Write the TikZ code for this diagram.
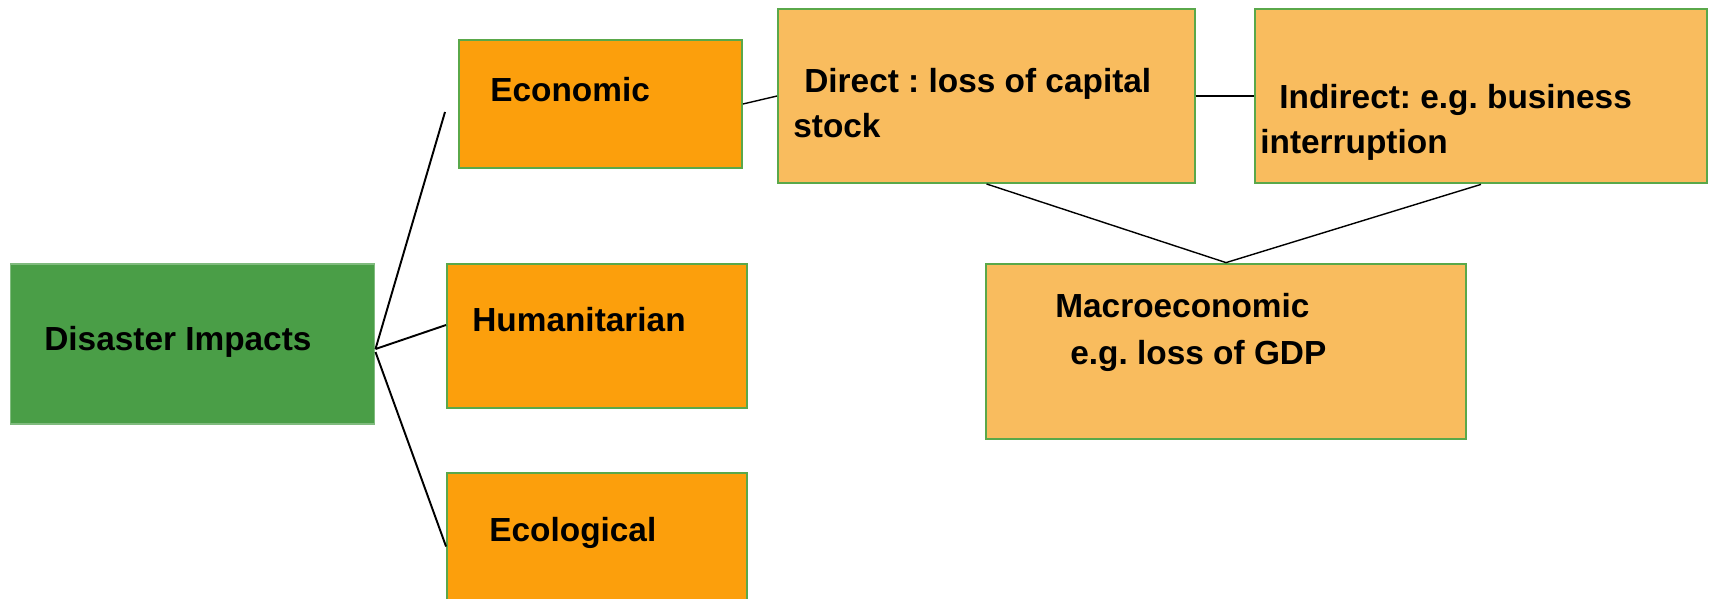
\documentclass[tikz,border=0pt]{standalone}
\usepackage{fontspec}
\setmainfont{Liberation Sans}
\usepackage{tikz}
\usetikzlibrary{positioning}
\definecolor{impactgreen}{HTML}{4A9E47}
\definecolor{edgegreen}{HTML}{5AA84A}
\definecolor{darkorange}{HTML}{FC9F0C}
\definecolor{lightorange}{HTML}{F9BC5E}
\frenchspacing

\begin{document}
\begin{tikzpicture}[x=0.02cm, y=-0.02cm,
			internal/.style={draw=edgegreen, rectangle, line width=1.1pt, inner sep=0pt},
			lbl/.style={anchor=base west, inner sep=0pt, font=\fontsize{19}{22}\selectfont\bfseries},
			link/.style={draw, line width=0.8pt}]
			\useasboundingbox (0,0) rectangle (1709,598);

			\node[internal, fill=impactgreen, draw=impactgreen!70!white, line width=0.6pt, minimum width=7.3cm, minimum height=3.2cm](node1) at (192.5,344) {};
			\node[lbl] (text1) at (44,350) {Disaster Impacts};

			% first level
			\node[internal, fill=darkorange, minimum width=5.66cm, minimum height=2.56cm](node2) at (600.5,104) {};
			\node[lbl] (text2) at (490,101) {Economic};
			\node[internal, fill=darkorange, minimum width=6cm, minimum height=2.88cm](node3) at (597,336) {};
			\node[lbl] (text3) at (472,331) {Humanitarian};
			\node[internal, fill=darkorange, minimum width=6cm, minimum height=2.94cm](node4) at (597,546.5) {};
			\node[lbl] (text4) at (489,541) {Ecological};

			% economic branch
			\node[internal, fill=lightorange, minimum width=8.34cm, minimum height=3.48cm](node21) at (986.5,96) {};
			\node[lbl] (text21) at (804,92) {Direct : loss of capital};
			\node[lbl] (text211) at (793,137) {stock};
			\node[internal, fill=lightorange, line width=1.6pt, minimum width=9.04cm, minimum height=3.48cm](node22) at (1481,96) {};
			\node[lbl] (text22) at (1279,109) {Indirect: e.g. business};
			\node[lbl] (text221) at (1260,153) {interruption};
			\node[internal, fill=lightorange, line width=1.6pt, minimum width=9.6cm, minimum height=3.5cm](node23) at (1226,351.5) {};
			\node[lbl] (text23) at (1055,317) {Macroeconomic};
			\node[lbl] (text231) at (1070,364.5) {e.g. loss of GDP};

			\coordinate (econend) at (445,112);
			\draw[link, line width=1.1pt] ([yshift=-0.1cm]node1.east) -- (econend);
			\draw[link, line width=1.1pt] ([yshift=-0.1cm]node1.east) -- ([yshift=0.22cm]node3.west);
			\draw[link, line width=1.1pt] ([yshift=-0.16cm]node1.east) -- (node4.west);

			\draw[link] (node2.east) -- (node21.west);
			\draw[link] (node21.east) -- (node22.west);
			\draw[link] (node21.south) -- (node23.north);
			\draw[link] (node22.south) -- (node23.north);
		\end{tikzpicture}
\end{document}
